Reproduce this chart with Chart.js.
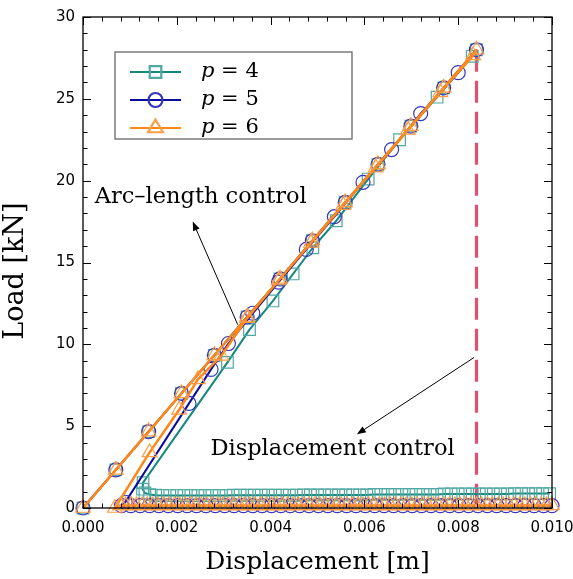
<!DOCTYPE html>
<html lang="en">
<head>
<meta charset="UTF-8">
<title>Load - displacement</title>
<script src="https://cdn.jsdelivr.net/npm/chart.js@4.4.1/dist/chart.umd.min.js"></script>
<style>
    body { margin: 0; background: #fff; }
    #wrap { width: 573px; height: 579px; }
</style>
</head>
<body>
<div id="wrap"><canvas id="myChart"></canvas></div>
<script>
// displacement in mm (converted to m when plotted), load in kN
// path: loading -> snap-back (arc-length) -> residual branch along the bottom
const p4Disp = [
    0, 0.70, 1.40, 2.10, 2.80, 3.50, 4.20, 4.89, 5.59, 6.29, 6.99, 7.69, 8.39,
    8.30, 7.55, 6.75, 6.08, 5.40, 4.90, 4.48, 4.05, 3.55, 3.08, 1.28,
    1.27, 1.32, 1.42, 1.55,
    1.70, 1.85, 2.00, 2.15, 2.30, 2.45, 2.60, 2.75, 2.90, 3.05,
    3.20, 3.35, 3.50, 3.65, 3.80, 3.95, 4.10, 4.25, 4.40, 4.55,
    4.70, 4.85, 5.00, 5.15, 5.30, 5.45, 5.60, 5.75, 5.90, 6.05,
    6.20, 6.35, 6.50, 6.65, 6.80, 6.95, 7.10, 7.25, 7.40, 7.55,
    7.70, 7.85, 8.00, 8.15, 8.30, 8.45, 8.60, 8.75, 8.90, 9.05,
    9.20, 9.35, 9.50, 9.65, 9.80, 9.95
];
const p4Load = [
    0, 2.33, 4.67, 7.00, 9.33, 11.67, 14.00, 16.33, 18.67, 21.00, 23.33, 25.67, 28.00,
    27.60, 25.10, 22.50, 20.10, 17.55, 15.90, 14.30, 12.65, 10.90, 8.90, 1.55,
    1.15, 0.92, 0.82, 0.78,
    0.76, 0.76, 0.76, 0.76, 0.76, 0.76, 0.76, 0.76, 0.76, 0.76,
    0.78, 0.78, 0.78, 0.78, 0.78, 0.78, 0.78, 0.78, 0.78, 0.78,
    0.80, 0.80, 0.80, 0.80, 0.80, 0.80, 0.80, 0.80, 0.80, 0.80,
    0.83, 0.83, 0.83, 0.83, 0.83, 0.83, 0.83, 0.83, 0.83, 0.83,
    0.86, 0.86, 0.86, 0.86, 0.86, 0.86, 0.86, 0.86, 0.86, 0.86,
    0.88, 0.88, 0.88, 0.88, 0.88, 0.88
];

const p5Disp = [
    0, 0.70, 1.40, 2.10, 2.80, 3.50, 4.20, 4.89, 5.59, 6.29, 6.99, 7.69, 8.39,
    8.00, 7.20, 6.58, 5.97, 5.36, 4.76, 4.17, 3.62, 3.10, 2.73, 2.26, 0.90,
    0.82, 1.02, 1.22, 1.42, 1.62, 1.82, 2.02, 2.22, 2.42, 2.62,
    2.82, 3.02, 3.22, 3.42, 3.62, 3.82, 4.02, 4.22, 4.42, 4.62,
    4.82, 5.02, 5.22, 5.42, 5.62, 5.82, 6.02, 6.22, 6.42, 6.62,
    6.82, 7.02, 7.22, 7.42, 7.62, 7.82, 8.02, 8.22, 8.42, 8.62,
    8.82, 9.02, 9.22, 9.42, 9.62, 9.82, 10.00
];
const p5Load = [
    0, 2.33, 4.67, 7.00, 9.33, 11.67, 14.00, 16.33, 18.67, 21.00, 23.33, 25.67, 28.00,
    26.60, 24.10, 21.90, 19.90, 17.80, 15.80, 13.80, 11.90, 10.05, 8.47, 6.39, 0.35,
    0.14, 0.14, 0.14, 0.14, 0.14, 0.14, 0.14, 0.14, 0.14, 0.14,
    0.14, 0.14, 0.14, 0.14, 0.14, 0.14, 0.14, 0.14, 0.14, 0.14,
    0.14, 0.14, 0.14, 0.14, 0.14, 0.14, 0.14, 0.14, 0.14, 0.14,
    0.14, 0.14, 0.14, 0.14, 0.14, 0.14, 0.14, 0.14, 0.14, 0.14,
    0.14, 0.14, 0.14, 0.14, 0.14, 0.14, 0.14
];

const p6Disp = [
    0, 0.70, 1.40, 2.10, 2.80, 3.50, 4.20, 4.89, 5.59, 6.29, 6.99, 7.69, 8.39,
    8.32, 7.62, 6.93, 6.24, 5.55, 4.86, 4.17, 3.50, 2.95, 2.45, 2.05, 1.42, 0.68,
    0.80, 0.91, 1.03, 1.14, 1.26, 1.37, 1.49, 1.60, 1.72, 1.83,
    1.95, 2.06, 2.18, 2.29, 2.41, 2.52, 2.64, 2.75, 2.87, 2.98,
    3.10, 3.21, 3.33, 3.44, 3.56, 3.67, 3.79, 3.90, 4.02, 4.13,
    4.25, 4.36, 4.48, 4.59, 4.71, 4.82, 4.94, 5.05, 5.17, 5.28,
    5.40, 5.51, 5.63, 5.74, 5.86, 5.97, 6.09, 6.20, 6.32, 6.43,
    6.55, 6.66, 6.78, 6.89, 7.01, 7.12, 7.24, 7.35, 7.47, 7.58,
    7.70, 7.81, 7.93, 8.04, 8.16, 8.27, 8.39, 8.50, 8.62, 8.73,
    8.85, 8.96, 9.08, 9.19, 9.31, 9.42, 9.54, 9.65, 9.77, 9.88,
    10.00
];
const p6Load = [
    0, 2.33, 4.67, 7.00, 9.33, 11.67, 14.00, 16.33, 18.67, 21.00, 23.33, 25.67, 28.00,
    27.65, 25.40, 23.10, 20.80, 18.50, 16.20, 13.90, 11.60, 9.30, 7.86, 6.00, 3.40, 0.00,
    0.16, 0.16, 0.16, 0.16, 0.16, 0.16, 0.16, 0.16, 0.16, 0.16,
    0.16, 0.16, 0.16, 0.16, 0.16, 0.16, 0.16, 0.16, 0.16, 0.16,
    0.16, 0.16, 0.16, 0.16, 0.16, 0.16, 0.16, 0.16, 0.16, 0.16,
    0.16, 0.16, 0.16, 0.16, 0.16, 0.16, 0.16, 0.16, 0.16, 0.16,
    0.16, 0.16, 0.16, 0.16, 0.16, 0.16, 0.16, 0.16, 0.16, 0.16,
    0.16, 0.16, 0.16, 0.16, 0.16, 0.16, 0.16, 0.16, 0.16, 0.16,
    0.16, 0.16, 0.16, 0.16, 0.16, 0.16, 0.16, 0.16, 0.16, 0.16,
    0.16, 0.16, 0.16, 0.16, 0.16, 0.16, 0.16, 0.16, 0.16, 0.16,
    0.16
];

// displacement control: vertical drop at peak
const dispCtrlDisp = [8.39, 8.39];
const dispCtrlLoad = [28.0, 0.0];

const xTicks = [0, 0.002, 0.004, 0.006, 0.008, 0.010];
const yTicks = [0, 5, 10, 15, 20, 25, 30];
const seriesLabels = ['4', '5', '6'];

// annotations: [text, label x (mm), label y (kN), arrow tail x, tail y, head x, head y]
const notes = [
    ['Arc\u2013length control', 2.51, 19.0, 3.30, 11.2, 2.34, 17.5],
    ['Displacement control', 5.32, 3.6, 8.34, 9.2, 5.84, 4.5]
];

const teal = '#15877f', tealMk = '#4fa8a2';
const blue = '#0c0c9c', blueMk = '#3535bd';
const orange = '#ff8617', orangeMk = '#ff9d45';
const serif = "'DejaVu Serif', serif";

function toPoints(d, l) {
    return d.map((v, i) => ({ x: v / 1000, y: l[i] }));
}

function series(disp, load, line, mk, style, r, w, ord) {
    return {
        data: toPoints(disp, load),
        showLine: true,
        borderColor: line,
        borderWidth: w,
        pointStyle: style,
        pointRadius: r,
        pointBorderColor: mk,
        pointBackgroundColor: 'rgba(0,0,0,0)',
        pointBorderWidth: 1.2,
        tension: 0,
        clip: false,
        order: ord
    };
}

const legendItems = [
    { line: teal, mk: tealMk, style: 'rect', r: 8.2 },
    { line: blue, mk: blueMk, style: 'circle', r: 7 },
    { line: orange, mk: orangeMk, style: 'triangle', r: 8.5 }
];

function arrow(ctx, x1, y1, x2, y2) {
    const ang = Math.atan2(y2 - y1, x2 - x1);
    const hl = 9, hw = 3.5;
    ctx.beginPath();
    ctx.moveTo(x1, y1);
    ctx.lineTo(x2 - Math.cos(ang) * hl * 0.8, y2 - Math.sin(ang) * hl * 0.8);
    ctx.stroke();
    ctx.beginPath();
    ctx.moveTo(x2, y2);
    ctx.lineTo(x2 - Math.cos(ang) * hl - Math.sin(ang) * hw, y2 - Math.sin(ang) * hl + Math.cos(ang) * hw);
    ctx.lineTo(x2 - Math.cos(ang) * hl + Math.sin(ang) * hw, y2 - Math.sin(ang) * hl - Math.cos(ang) * hw);
    ctx.closePath();
    ctx.fill();
}

const decor = {
    id: 'decor',
    afterDatasetsDraw(chart) {
        const ctx = chart.ctx, a = chart.chartArea;
        const xs = chart.scales.x, ys = chart.scales.y;
        ctx.save();
        // frame
        ctx.strokeStyle = '#000';
        ctx.lineWidth = 1.3;
        ctx.strokeRect(a.left, a.top, a.right - a.left, a.bottom - a.top);
        // inward ticks
        ctx.lineWidth = 1;
        ctx.beginPath();
        for (let i = 0; i <= 25; i++) {
            const v = i * 0.0004;
            const px = Math.round(xs.getPixelForValue(v)) + 0.5;
            const len = (i % 5 === 0) ? 8 : 4.5;
            ctx.moveTo(px, a.bottom); ctx.lineTo(px, a.bottom - len);
            ctx.moveTo(px, a.top); ctx.lineTo(px, a.top + len);
        }
        for (let i = 0; i <= 30; i++) {
            const py = Math.round(ys.getPixelForValue(i)) + 0.5;
            const len = (i % 5 === 0) ? 8 : 4.5;
            ctx.moveTo(a.left, py); ctx.lineTo(a.left + len, py);
            ctx.moveTo(a.right, py); ctx.lineTo(a.right - len, py);
        }
        ctx.stroke();

        // annotations
        ctx.fillStyle = '#000';
        ctx.strokeStyle = '#000';
        ctx.lineWidth = 1;
        ctx.font = '22.5px ' + serif;
        ctx.textAlign = 'center';
        ctx.textBaseline = 'middle';
        notes.forEach(n => {
            ctx.fillText(n[0], xs.getPixelForValue(n[1] / 1000), ys.getPixelForValue(n[2]));
            arrow(ctx, xs.getPixelForValue(n[3] / 1000), ys.getPixelForValue(n[4]),
                xs.getPixelForValue(n[5] / 1000), ys.getPixelForValue(n[6]));
        });

        // legend box
        const lx = 115, ly = 52, lw = 237, lh = 87;
        ctx.fillStyle = '#fff';
        ctx.fillRect(lx, ly, lw, lh);
        ctx.strokeStyle = '#666';
        ctx.lineWidth = 1.3;
        ctx.strokeRect(lx, ly, lw, lh);
        legendItems.forEach((it, i) => {
            const y = ly + 20 + i * 28;
            ctx.strokeStyle = it.line;
            ctx.lineWidth = 2.2;
            ctx.beginPath();
            ctx.moveTo(lx + 15, y); ctx.lineTo(lx + 66, y);
            ctx.stroke();
            ctx.strokeStyle = it.mk;
            ctx.fillStyle = 'rgba(0,0,0,0)';
            Chart.helpers.drawPoint(ctx, { pointStyle: it.style, radius: it.r, rotation: 0, borderWidth: 1.2 }, lx + 40.5, y);
            ctx.fillStyle = '#000';
            ctx.textAlign = 'left';
            ctx.textBaseline = 'middle';
            ctx.font = 'italic 21px ' + serif;
            ctx.fillText('p', lx + 86, y);
            const pw = ctx.measureText('p').width;
            ctx.font = '21px ' + serif;
            ctx.fillText(' = ' + seriesLabels[i], lx + 86 + pw, y);
        });
        ctx.restore();
    }
};

Chart.defaults.color = '#000';

new Chart(document.getElementById('myChart'), {
    type: 'scatter',
    data: {
        datasets: [
            series(p6Disp, p6Load, orange, orangeMk, 'triangle', 8.5, 2.5, 0),
            series(p5Disp, p5Load, blue, blueMk, 'circle', 7, 2, 1),
            series(p4Disp, p4Load, teal, tealMk, 'rect', 8.2, 2, 2),
            {
                data: toPoints(dispCtrlDisp, dispCtrlLoad),
                showLine: true,
                borderColor: '#e2516b',
                borderWidth: 3.2,
                borderDash: [22, 9],
                pointRadius: 0,
                clip: false,
                order: 3
            }
        ]
    },
    options: {
        responsive: true,
        maintainAspectRatio: false,
        animation: false,
        events: [],
        layout: { padding: { top: 17, right: 21, left: 0, bottom: 0 } },
        plugins: { legend: { display: false }, tooltip: { enabled: false } },
        scales: {
            x: {
                type: 'linear',
                min: 0,
                max: 0.010,
                afterBuildTicks: s => { s.ticks = xTicks.map(v => ({ value: v })); },
                afterFit: s => { s.height = 71; s.paddingLeft = 0; s.paddingRight = 0; },
                grid: { display: false, drawTicks: false },
                border: { display: false },
                ticks: {
                    padding: 11,
                    font: { family: "'DejaVu Sans', sans-serif", size: 15 },
                    callback: v => v.toFixed(3)
                },
                title: {
                    display: true,
                    text: 'Displacement [m]',
                    font: { family: serif, size: 25 },
                    padding: { top: 0, bottom: 2 }
                }
            },
            y: {
                min: 0,
                max: 30,
                afterBuildTicks: s => { s.ticks = yTicks.map(v => ({ value: v })); },
                afterFit: s => { s.width = 83; },
                grid: { display: false, drawTicks: false },
                border: { display: false },
                ticks: {
                    padding: 8,
                    font: { family: "'DejaVu Sans', sans-serif", size: 15 }
                },
                title: {
                    display: true,
                    text: 'Load [kN]  ',
                    font: { family: serif, size: 27 },
                    padding: { top: 0, bottom: 10 }
                }
            }
        }
    },
    plugins: [decor]
});
</script>
</body>
</html>
